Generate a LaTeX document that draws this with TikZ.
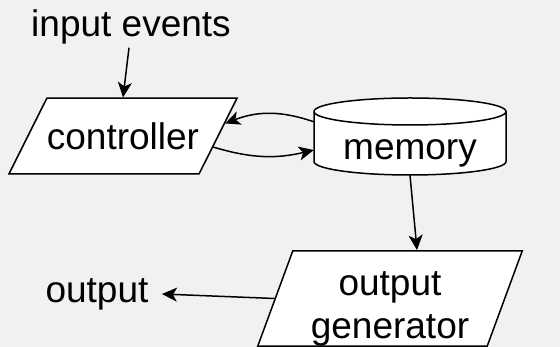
\documentclass[tikz,border=0pt]{standalone}
\usepackage{fontspec}
\setmainfont{Liberation Sans}
\usetikzlibrary{arrows.meta}
\usetikzlibrary{shapes.geometric}
\definecolor{bgcol}{RGB}{241,241,241}

\begin{document}
\begin{tikzpicture}[x=1pt,y=1pt,
  every node/.style={font=\fontsize{37}{43}\selectfont},
  para/.style={trapezium, draw, fill=white, line width=1.5pt},
  flow/.style={line width=1.5pt, -{Stealth[length=15pt,width=14pt,inset=4pt]}}]

\fill[bgcol] (0,0) rectangle (560,347);
\useasboundingbox (0,0) rectangle (560,347);

% cylinder for the memory
\begin{scope}[shift={(410,197)}, line width=1.5pt]
\draw[fill=white] (-96,38.5) -- (-96,-11.5) arc[start angle=180, end angle=360, x radius=96pt, y radius=13.5pt]
  -- (96,38.5) arc[start angle=0, end angle=180, x radius=96pt, y radius=13.5pt] -- cycle;
\draw (-96,38.5) arc[start angle=180, end angle=360, x radius=96pt, y radius=13.5pt];
\end{scope}

\node (input) at (131,320) {input events};
\node[para, trapezium left angle=63.4, trapezium right angle=116.6,
  inner xsep=0pt, inner ysep=24.3pt] (ctrl) at (123,211) {controller};
\node[inner sep=0pt, minimum width=192, minimum height=50, text depth=0pt] (mem) at (410,197) {memory};
\node[para, trapezium left angle=69.8, trapezium right angle=110.2,
  inner xsep=18pt, inner ysep=0pt, align=center] (outgen) at (390,48.5) {\rule{0pt}{44.6pt}output\\generator};
\node (out) at (97,53) {output};

\draw[flow] ([xshift=-2pt]input.south) -- (ctrl.north);
\draw[flow] ([yshift=3pt]mem.north west) to[bend right=20] (ctrl.7);
\draw[flow] (ctrl.-7) to[bend right=15] (mem.west);
\draw[flow] (mem.south) -- ([xshift=27pt]outgen.north);
\draw[flow] (outgen.west) -- ([xshift=10pt]out.east);

\end{tikzpicture}
\end{document}
